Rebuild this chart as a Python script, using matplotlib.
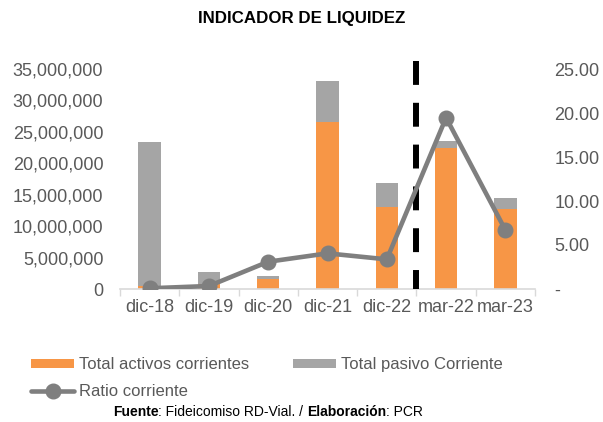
import numpy as np
import matplotlib
matplotlib.use('Agg')
import matplotlib.pyplot as plt
from matplotlib.ticker import FuncFormatter, FixedLocator
from matplotlib.offsetbox import TextArea, HPacker, AnnotationBbox

plt.rcParams['font.family'] = ['Liberation Sans', 'DejaVu Sans']

## data
periodos = ['dic-18', 'dic-19', 'dic-20', 'dic-21', 'dic-22', 'mar-22', 'mar-23']
activos = [400000, 750000, 1590000, 26500000, 13000000, 22400000, 12700000]
pasivos = [23000000, 1900000, 530000, 6600000, 3900000, 1100000, 1800000]
ratio = [0.08, 0.34, 3.10, 4.05, 3.37, 19.47, 6.70]

naranja = '#F79646'
gris = '#A5A5A5'
gris_linea = '#7F7F7F'
txt = '#595959'

fig = plt.figure(figsize=(6.03, 4.22), dpi=100)
ax1 = fig.add_axes([120/603, 1-289/422, 415/603, 220/422])
ax2 = ax1.twinx()

x = np.arange(len(periodos))
ax1.bar(x, activos, width=0.38, color=naranja, label='Total activos corrientes', zorder=2)
ax1.bar(x, pasivos, width=0.38, bottom=activos, color=gris, label='Total pasivo Corriente', zorder=2)

ln, = ax2.plot(x, ratio, color=gris_linea, lw=3.3, marker='o', ms=10.5, label='Ratio corriente',
               solid_capstyle='round')

## separator between annual and quarterly data (dashes start at the top)
ax1.plot([4.5, 4.5], [36200000, 0], color='black', lw=4.3, ls=(0, (4, 3)), clip_on=False,
         zorder=3, dash_capstyle='butt')

ax1.set_xlim(-0.5, 6.5)
ax1.set_ylim(0, 35000000)
ax2.set_ylim(0, 25)
ax1.set_yticks(np.arange(0, 35000001, 5000000))
ax2.set_yticks(np.arange(0, 25.1, 5))
ax1.yaxis.set_major_formatter(FuncFormatter(lambda v, p: '{:,.0f}'.format(v)))
ax2.yaxis.set_major_formatter(FuncFormatter(lambda v, p: '-' if v == 0 else '{:.2f}'.format(v)))

ax1.set_xticks(x)
ax1.set_xticklabels(periodos)
ax1.xaxis.set_minor_locator(FixedLocator(np.arange(-0.5, 7, 1)))
ax1.tick_params(axis='x', which='major', length=0, pad=7, labelsize=13, labelcolor=txt)
ax1.tick_params(axis='x', which='minor', length=5, color='#D9D9D9', width=1)
ax1.tick_params(axis='y', length=0, pad=12, labelsize=13, labelcolor=txt)
ax2.tick_params(axis='y', length=0, pad=14, labelsize=13, labelcolor=txt)

for a in (ax1, ax2):
    for s in ['top', 'left', 'right', 'bottom']:
        a.spines[s].set_visible(False)
ax1.spines['bottom'].set_visible(True)
ax1.spines['bottom'].set_color('#D9D9D9')
ax1.spines['bottom'].set_linewidth(1.2)

fig.text(0.5, 1-18/422, 'INDICADOR DE LIQUIDEZ', ha='center', va='center',
         fontsize=12.2, fontweight='bold', color='black')

h1, l1 = ax1.get_legend_handles_labels()
leg = fig.legend([h1[0], ln, h1[1]], [l1[0], 'Ratio corriente', l1[1]], ncol=2,
                 loc='upper left', bbox_to_anchor=(31/603, 1-357/422), frameon=False,
                 fontsize=12, labelcolor=txt, handlelength=2.6, handleheight=0.45,
                 handletextpad=0.3, columnspacing=2.6, labelspacing=0.74, borderpad=0,
                 borderaxespad=0)

## footer with bold parts
partes = [('Fuente', 'bold'), (': Fideicomiso RD-Vial. / ', 'normal'),
          ('Elaboración', 'bold'), (': PCR', 'normal')]
cajas = [TextArea(t, textprops=dict(fontsize=10, fontweight=w, color='black')) for t, w in partes]
pie = HPacker(children=cajas, pad=0, sep=0)
ab = AnnotationBbox(pie, (268/603, 1-412/422), xycoords='figure fraction', frameon=False,
                    box_alignment=(0.5, 0.5))
fig.add_artist(ab)

fig.savefig('out.png', dpi=100)
plt.close()
